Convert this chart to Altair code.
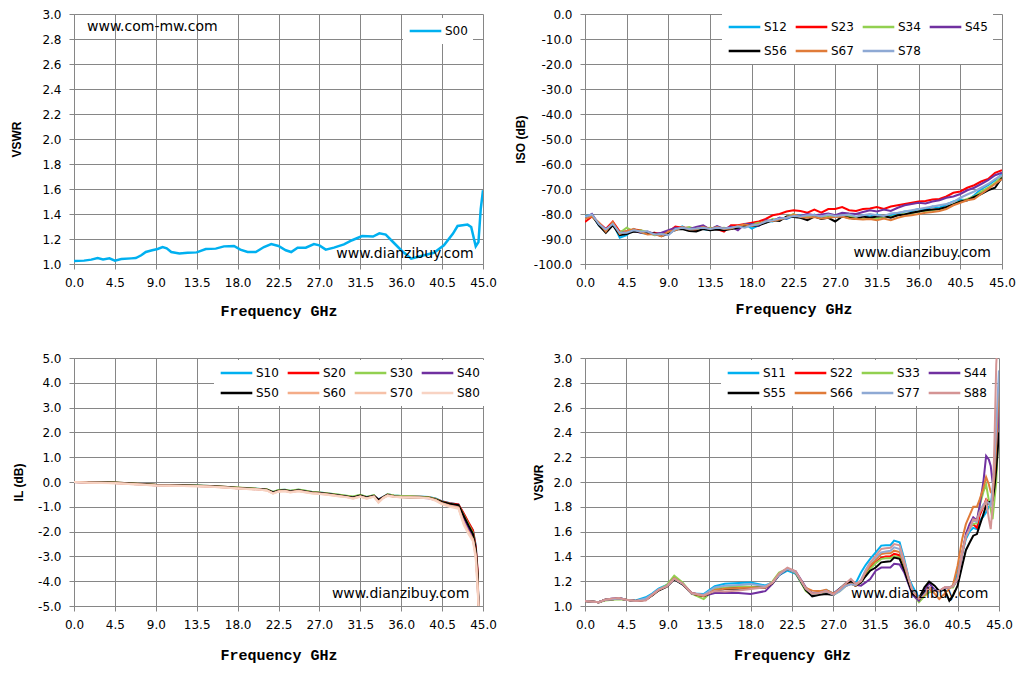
import altair as alt
import pandas as pd

# ---------------- data ----------------
freq_ticks = [0.0, 4.5, 9.0, 13.5, 18.0, 22.5, 27.0, 31.5, 36.0, 40.5, 45.0]

# top-left: VSWR of common port
freq_tl = [0, 0.5, 1.1, 1.9, 2.6, 3.2, 3.9, 4.5, 5.2, 6.3,
           6.8, 7.4, 7.9, 8.6, 9.2, 9.75, 10.2, 10.7, 11.6, 12.5,
           13.5, 14.5, 15.6, 16.5, 17.6, 18.3, 19.1, 20, 20.9, 21.7,
           22.5, 23.3, 23.9, 24.6, 25.5, 26.4, 27, 27.7, 28.6, 29.7,
           30.6, 31.7, 32.9, 33.6, 34.3, 35.1, 36, 37.1, 38.2, 39.6,
           40.7, 41.7, 42.2, 43.3, 43.7, 44.2, 44.5, 44.75, 45]
s00 = [1.024, 1.025, 1.027, 1.035, 1.048, 1.037, 1.045, 1.027, 1.040, 1.045,
       1.048, 1.07, 1.096, 1.11, 1.12, 1.136, 1.125, 1.096, 1.085, 1.09,
       1.093, 1.12, 1.123, 1.141, 1.144, 1.115, 1.096, 1.096, 1.136, 1.16,
       1.144, 1.11, 1.096, 1.131, 1.131, 1.16, 1.149, 1.115, 1.131, 1.157,
       1.19, 1.224, 1.22, 1.245, 1.235, 1.176, 1.11, 1.043, 1.064, 1.09,
       1.149, 1.243, 1.304, 1.315, 1.296, 1.141, 1.176, 1.44, 1.59]

# top-right: isolation
freq_iso = [0, 0.75, 1.5, 2.25, 3, 3.75, 4.5, 5.25, 6, 6.75,
            7.5, 8.25, 9, 9.75, 10.5, 11.25, 12, 12.75, 13.5, 14.25,
            15, 15.75, 16.5, 17.25, 18, 18.75, 19.5, 20.25, 21, 21.75,
            22.5, 23.25, 24, 24.75, 25.5, 26.25, 27, 27.75, 28.5, 29.25,
            30, 30.75, 31.5, 32.25, 33, 33.75, 34.5, 35.25, 36, 36.75,
            37.5, 38.25, 39, 39.75, 40.5, 41.25, 42, 42.75, 43.5, 44.25, 45]
s12 = [-81.0, -80.2, -84.5, -87.0, -83.5, -89.5, -88.5, -86.0, -87.5, -88.0,
       -87.5, -88.8, -87.0, -86.5, -85.0, -86.5, -85.5, -86.0, -86.5, -85.0,
       -86.8, -85.2, -86.0, -84.0, -85.8, -84.5, -82.8, -83.0, -81.5, -82.0,
       -80.8, -80.5, -81.5, -80.2, -81.5, -80.0, -81.2, -80.8, -80.0, -81.5,
       -80.5, -81.0, -80.2, -81.0, -80.6, -79.8, -79.0, -78.8, -78.0, -78.2,
       -77.0, -77.5, -76.2, -75.0, -74.2, -74.5, -72.5, -70.0, -68.5, -66.5, -64.0]
s23 = [-83.2, -81.0, -83.5, -86.0, -83.0, -87.0, -87.0, -86.2, -86.5, -87.8,
       -87.5, -88.0, -87.2, -85.0, -85.5, -85.5, -86.5, -85.0, -86.0, -86.0,
       -87.0, -84.5, -84.5, -84.0, -83.5, -83.0, -82.0, -80.5, -80.0, -79.0,
       -78.5, -78.8, -79.5, -78.2, -79.5, -78.0, -78.0, -77.2, -78.5, -78.8,
       -78.0, -77.8, -77.2, -78.0, -77.0, -76.5, -76.0, -75.5, -75.0, -74.8,
       -74.2, -74.0, -73.0, -71.5, -71.0, -69.5, -68.5, -67.0, -66.0, -63.5, -62.5]
s34 = [-81.5, -80.8, -83.8, -86.8, -84.5, -87.5, -85.5, -87.0, -86.5, -87.2,
       -88.5, -88.2, -87.8, -85.8, -86.0, -85.2, -86.2, -85.8, -85.5, -85.8,
       -85.5, -86.0, -85.2, -84.8, -84.2, -83.5, -83.5, -82.0, -82.5, -81.2,
       -80.0, -81.5, -80.8, -81.0, -81.2, -81.0, -80.5, -81.2, -81.0, -81.5,
       -81.8, -81.5, -81.8, -81.0, -81.2, -80.5, -80.0, -79.8, -79.0, -78.8,
       -78.5, -78.0, -77.5, -76.0, -75.0, -74.0, -73.0, -71.0, -69.5, -67.5, -65.0]
s45 = [-81.8, -80.0, -84.2, -86.0, -84.2, -87.8, -87.0, -86.8, -87.5, -87.0,
       -88.0, -87.5, -86.5, -85.5, -85.8, -86.0, -85.2, -84.5, -86.2, -84.8,
       -86.0, -85.0, -86.5, -84.0, -84.0, -84.8, -82.5, -82.8, -81.5, -81.8,
       -80.5, -80.8, -80.0, -80.5, -80.2, -79.8, -80.5, -79.5, -79.8, -80.0,
       -79.2, -78.5, -79.0, -78.2, -78.8, -77.5, -76.5, -76.0, -75.5, -75.8,
       -75.0, -74.5, -73.5, -73.0, -72.0, -70.5, -69.5, -68.0, -66.5, -64.5, -63.5]
s56 = [-81.5, -80.5, -84.5, -87.5, -84.5, -88.5, -88.0, -87.0, -87.2, -87.8,
       -87.8, -88.8, -88.0, -86.2, -86.0, -86.8, -87.0, -86.0, -86.5, -86.2,
       -86.5, -86.0, -85.5, -84.5, -84.8, -84.5, -83.5, -82.5, -82.8, -81.0,
       -81.2, -81.5, -82.5, -81.0, -82.0, -81.5, -83.0, -81.0, -81.5, -82.0,
       -81.0, -81.5, -81.0, -80.8, -81.5, -80.5, -80.2, -79.5, -79.0, -78.5,
       -78.2, -78.0, -77.2, -76.2, -75.0, -74.5, -73.2, -72.0, -70.5, -69.5, -65.5]
s67 = [-82.0, -80.8, -83.5, -87.0, -83.2, -88.0, -86.8, -86.0, -87.2, -88.2,
       -88.0, -89.0, -87.0, -86.5, -85.2, -86.2, -86.0, -85.2, -86.0, -85.2,
       -86.0, -85.8, -84.8, -84.2, -84.8, -84.0, -82.8, -82.8, -82.2, -81.5,
       -80.2, -81.2, -81.5, -81.2, -81.8, -81.5, -81.2, -81.0, -81.8, -82.0,
       -82.2, -82.0, -82.5, -81.8, -82.5, -81.5, -80.8, -80.5, -80.0, -79.5,
       -79.2, -78.8, -78.0, -76.5, -75.5, -74.5, -74.0, -72.0, -70.0, -68.0, -66.0]
s78 = [-81.2, -80.2, -84.0, -86.2, -84.0, -87.5, -87.5, -86.5, -87.0, -87.0,
       -88.2, -88.0, -88.5, -86.0, -85.5, -86.0, -85.8, -85.5, -86.0, -85.5,
       -85.8, -85.5, -85.0, -85.5, -84.5, -84.2, -83.0, -82.5, -81.8, -81.5,
       -80.8, -81.0, -80.5, -80.5, -81.0, -80.2, -80.8, -80.5, -80.2, -81.0,
       -80.5, -80.0, -80.5, -80.8, -79.8, -79.5, -79.0, -78.5, -78.0, -77.5,
       -77.0, -76.5, -76.0, -75.2, -73.5, -72.2, -71.0, -69.5, -68.0, -66.0, -64.5]

# bottom-left: insertion loss
freq_il = [0, 1.5, 3, 4.5, 6, 7.5, 9, 10.5, 12, 13.5,
           15, 16.5, 18, 19.5, 20.5, 21.2, 21.9, 22.5, 23.2, 23.8,
           24.7, 25.5, 26.2, 27, 28, 29, 30, 30.7, 31.5, 32.2,
           33, 33.5, 34, 34.5, 35.2, 36, 37, 38, 39, 39.8,
           40.5, 41.3, 42.3, 42.9, 43.4, 43.9, 44.2, 44.4, 44.5]
s10 = [0.0, -0.00, -0.01, -0.02, -0.05, -0.08, -0.11, -0.12, -0.13, -0.14,
       -0.16, -0.19, -0.23, -0.26, -0.28, -0.30, -0.40, -0.33, -0.31, -0.36,
       -0.31, -0.36, -0.40, -0.42, -0.46, -0.51, -0.56, -0.60, -0.53, -0.60,
       -0.54, -0.70, -0.60, -0.50, -0.54, -0.56, -0.57, -0.58, -0.60, -0.66,
       -0.78, -0.85, -0.90, -1.30, -1.65, -1.95, -2.55, -3.60, -5.0]
s20 = [0.0, -0.01, -0.01, -0.02, -0.05, -0.08, -0.11, -0.12, -0.13, -0.15,
       -0.16, -0.19, -0.23, -0.26, -0.29, -0.30, -0.41, -0.34, -0.32, -0.37,
       -0.32, -0.37, -0.41, -0.43, -0.47, -0.52, -0.57, -0.61, -0.54, -0.61,
       -0.55, -0.72, -0.61, -0.51, -0.55, -0.57, -0.58, -0.59, -0.61, -0.68,
       -0.78, -0.86, -0.90, -1.28, -1.62, -1.95, -2.60, -3.50, -5.0]
s30 = [0.0, -0.00, -0.01, -0.02, -0.05, -0.08, -0.11, -0.12, -0.13, -0.14,
       -0.16, -0.19, -0.22, -0.25, -0.28, -0.29, -0.40, -0.32, -0.31, -0.35,
       -0.30, -0.35, -0.40, -0.42, -0.46, -0.50, -0.55, -0.58, -0.52, -0.60,
       -0.53, -0.75, -0.62, -0.50, -0.54, -0.56, -0.57, -0.59, -0.61, -0.68,
       -0.80, -0.88, -0.95, -1.35, -1.70, -2.05, -2.80, -3.80, -5.0]
s40 = [0.0, -0.02, -0.03, -0.04, -0.07, -0.10, -0.13, -0.14, -0.15, -0.16,
       -0.18, -0.21, -0.25, -0.28, -0.30, -0.32, -0.43, -0.36, -0.34, -0.39,
       -0.34, -0.39, -0.43, -0.45, -0.49, -0.54, -0.59, -0.63, -0.56, -0.63,
       -0.57, -0.73, -0.63, -0.53, -0.58, -0.60, -0.62, -0.64, -0.66, -0.73,
       -0.84, -0.92, -1.00, -1.45, -1.85, -2.30, -2.90, -4.00, -5.0]
s50 = [0.0, -0.01, -0.02, -0.03, -0.06, -0.09, -0.12, -0.13, -0.14, -0.15,
       -0.17, -0.20, -0.24, -0.27, -0.29, -0.31, -0.42, -0.35, -0.33, -0.38,
       -0.33, -0.38, -0.42, -0.44, -0.48, -0.53, -0.58, -0.62, -0.55, -0.62,
       -0.56, -0.72, -0.62, -0.52, -0.58, -0.60, -0.62, -0.63, -0.64, -0.70,
       -0.80, -0.88, -0.93, -1.38, -1.75, -2.10, -2.70, -3.70, -5.0]
s60 = [0.0, -0.02, -0.03, -0.04, -0.07, -0.10, -0.13, -0.14, -0.15, -0.16,
       -0.18, -0.21, -0.25, -0.28, -0.30, -0.33, -0.45, -0.37, -0.35, -0.40,
       -0.35, -0.40, -0.44, -0.46, -0.50, -0.55, -0.60, -0.65, -0.58, -0.65,
       -0.58, -0.80, -0.64, -0.54, -0.58, -0.60, -0.61, -0.62, -0.64, -0.72,
       -0.86, -0.95, -1.02, -1.65, -2.00, -2.30, -2.90, -4.00, -5.0]
s70 = [0.0, -0.02, -0.03, -0.05, -0.08, -0.11, -0.14, -0.15, -0.16, -0.17,
       -0.19, -0.22, -0.26, -0.29, -0.31, -0.34, -0.46, -0.38, -0.36, -0.41,
       -0.36, -0.41, -0.45, -0.47, -0.51, -0.56, -0.61, -0.66, -0.59, -0.66,
       -0.59, -0.82, -0.65, -0.55, -0.59, -0.61, -0.62, -0.63, -0.65, -0.74,
       -0.88, -0.97, -1.05, -1.70, -2.05, -2.35, -3.00, -4.20, -5.0]
s80 = [0.0, -0.03, -0.04, -0.05, -0.08, -0.11, -0.14, -0.15, -0.16, -0.17,
       -0.19, -0.22, -0.26, -0.29, -0.31, -0.34, -0.47, -0.39, -0.37, -0.42,
       -0.37, -0.42, -0.46, -0.48, -0.52, -0.57, -0.62, -0.67, -0.60, -0.67,
       -0.60, -0.84, -0.66, -0.56, -0.60, -0.62, -0.63, -0.64, -0.66, -0.76,
       -0.90, -1.00, -1.08, -1.75, -2.10, -2.40, -3.10, -4.30, -5.0]

# bottom-right: VSWR of output ports
freq_vs = [0, 1.5, 2.2, 3.0, 3.7, 4.5, 5.5, 6.6, 7.3, 8.0,
           8.9, 9.7, 10.6, 11.6, 12.9, 14.1, 15.2, 16.7, 18.0, 19.6,
           20.4, 21.1, 22.0, 22.9, 24.0, 24.7, 25.5, 26.2, 27.0, 27.7,
           28.3, 28.9, 29.4, 30.0, 30.5, 31.0, 31.6, 32.2, 32.7, 33.2,
           33.6, 34.2, 34.7, 35.2, 35.6, 36.3, 36.9, 37.4, 38.0, 38.5,
           39.1, 39.6, 40.0, 40.5, 41.0, 41.4, 41.8, 42.2, 42.6, 42.9,
           43.3, 43.6, 43.9, 44.1, 44.3, 44.5, 44.7, 45.0]
s11 = [1.04, 1.03, 1.05, 1.055, 1.065, 1.05, 1.045, 1.07, 1.10, 1.14,
       1.17, 1.22, 1.175, 1.10, 1.097, 1.16, 1.18, 1.185, 1.19, 1.165,
       1.19, 1.25, 1.285, 1.26, 1.13, 1.10, 1.11, 1.13, 1.10, 1.14,
       1.175, 1.18, 1.18, 1.27, 1.33, 1.38, 1.433, 1.487, 1.49, 1.49,
       1.527, 1.513, 1.38, 1.22, 1.16, 1.065, 1.10, 1.15, 1.125, 1.12,
       1.14, 1.15, 1.16, 1.27, 1.42, 1.54, 1.60, 1.63, 1.62, 1.69,
       1.72, 1.755, 1.80, 1.82, 1.90, 2.05, 2.35, 2.70]
s22 = [1.04, 1.03, 1.05, 1.055, 1.06, 1.05, 1.04, 1.05, 1.09, 1.13,
       1.16, 1.22, 1.18, 1.105, 1.085, 1.137, 1.142, 1.148, 1.15, 1.15,
       1.19, 1.26, 1.30, 1.27, 1.14, 1.10, 1.105, 1.12, 1.095, 1.13,
       1.16, 1.18, 1.165, 1.20, 1.26, 1.31, 1.352, 1.39, 1.40, 1.40,
       1.42, 1.41, 1.31, 1.20, 1.12, 1.06, 1.10, 1.15, 1.12, 1.12,
       1.15, 1.15, 1.16, 1.22, 1.43, 1.56, 1.63, 1.66, 1.63, 1.73,
       1.80, 1.86, 1.84, 1.83, 1.85, 2.00, 2.20, 2.60]
s33 = [1.04, 1.03, 1.045, 1.05, 1.055, 1.05, 1.04, 1.05, 1.09, 1.13,
       1.17, 1.245, 1.19, 1.10, 1.056, 1.137, 1.15, 1.159, 1.155, 1.15,
       1.20, 1.27, 1.30, 1.265, 1.12, 1.085, 1.095, 1.12, 1.09, 1.12,
       1.16, 1.18, 1.165, 1.19, 1.25, 1.30, 1.345, 1.38, 1.385, 1.385,
       1.40, 1.39, 1.30, 1.19, 1.10, 1.03, 1.08, 1.11, 1.12, 1.12,
       1.14, 1.15, 1.15, 1.22, 1.43, 1.56, 1.63, 1.66, 1.67, 1.81,
       1.92, 1.98, 1.85, 1.78, 1.70, 1.85, 2.00, 2.50]
s44 = [1.04, 1.03, 1.05, 1.06, 1.065, 1.05, 1.04, 1.05, 1.09, 1.13,
       1.16, 1.22, 1.18, 1.105, 1.08, 1.105, 1.105, 1.105, 1.097, 1.12,
       1.18, 1.25, 1.30, 1.28, 1.15, 1.105, 1.11, 1.12, 1.10, 1.14,
       1.17, 1.20, 1.17, 1.164, 1.19, 1.218, 1.285, 1.31, 1.31, 1.31,
       1.34, 1.335, 1.27, 1.17, 1.09, 1.043, 1.12, 1.185, 1.13, 1.12,
       1.14, 1.15, 1.16, 1.21, 1.42, 1.58, 1.66, 1.715, 1.69, 1.81,
       2.00, 2.21, 2.18, 2.13, 2.00, 2.10, 2.20, 2.60]
s55 = [1.04, 1.03, 1.05, 1.055, 1.06, 1.05, 1.04, 1.05, 1.085, 1.125,
       1.155, 1.215, 1.175, 1.10, 1.08, 1.124, 1.137, 1.142, 1.145, 1.15,
       1.185, 1.25, 1.30, 1.27, 1.13, 1.078, 1.09, 1.097, 1.09, 1.14,
       1.18, 1.196, 1.164, 1.19, 1.24, 1.285, 1.31, 1.352, 1.357, 1.36,
       1.39, 1.38, 1.29, 1.18, 1.10, 1.06, 1.15, 1.196, 1.164, 1.12,
       1.13, 1.043, 1.083, 1.164, 1.325, 1.45, 1.51, 1.567, 1.58, 1.65,
       1.74, 1.81, 1.836, 1.84, 1.85, 1.95, 2.10, 2.40]
s66 = [1.04, 1.03, 1.05, 1.055, 1.06, 1.05, 1.04, 1.05, 1.09, 1.13,
       1.16, 1.225, 1.18, 1.10, 1.08, 1.13, 1.14, 1.145, 1.148, 1.15,
       1.19, 1.26, 1.30, 1.27, 1.145, 1.124, 1.12, 1.13, 1.10, 1.13,
       1.165, 1.18, 1.165, 1.20, 1.27, 1.33, 1.37, 1.42, 1.425, 1.425,
       1.446, 1.435, 1.33, 1.21, 1.12, 1.06, 1.09, 1.14, 1.10, 1.056,
       1.10, 1.14, 1.17, 1.325, 1.54, 1.66, 1.73, 1.80, 1.80, 1.86,
       1.95, 2.04, 1.98, 1.92, 1.90, 2.05, 2.30, 2.80]
s77 = [1.04, 1.03, 1.05, 1.055, 1.06, 1.05, 1.04, 1.06, 1.095, 1.135,
       1.16, 1.22, 1.18, 1.10, 1.09, 1.15, 1.164, 1.17, 1.177, 1.16,
       1.19, 1.25, 1.30, 1.27, 1.14, 1.10, 1.105, 1.12, 1.09, 1.12,
       1.16, 1.175, 1.17, 1.21, 1.29, 1.35, 1.39, 1.433, 1.44, 1.445,
       1.473, 1.46, 1.35, 1.22, 1.13, 1.065, 1.10, 1.15, 1.12, 1.12,
       1.15, 1.15, 1.16, 1.22, 1.43, 1.56, 1.62, 1.69, 1.68, 1.76,
       1.82, 1.84, 1.83, 1.81, 1.95, 2.15, 2.45, 2.90]
s88 = [1.04, 1.03, 1.05, 1.06, 1.065, 1.05, 1.04, 1.045, 1.09, 1.13,
       1.16, 1.22, 1.18, 1.105, 1.085, 1.12, 1.116, 1.124, 1.137, 1.15,
       1.19, 1.26, 1.31, 1.28, 1.14, 1.10, 1.105, 1.12, 1.095, 1.14,
       1.18, 1.218, 1.18, 1.20, 1.28, 1.35, 1.406, 1.46, 1.465, 1.47,
       1.50, 1.49, 1.36, 1.22, 1.12, 1.06, 1.10, 1.15, 1.12, 1.12,
       1.15, 1.15, 1.16, 1.22, 1.43, 1.56, 1.62, 1.70, 1.69, 1.755,
       1.80, 1.85, 1.70, 1.62, 1.80, 2.30, 2.95, 3.30]

BLUE, RED, GREEN, PURPLE, BLACK = "#00B0F0", "#FF0000", "#92D050", "#7030A0", "#000000"
GRID = "#868686"


def long_frame(freq, series):
    rows = []
    for name, vals in series.items():
        assert len(vals) == len(freq), name
        rows += [{"freq": f, "val": v, "series": name} for f, v in zip(freq, vals)]
    return pd.DataFrame(rows)


def make_legend(x, y, cols, row_pad):
    return alt.Legend(orient="none", legendX=x, legendY=y, columns=cols, title=None,
                      direction="horizontal",
                      symbolType="stroke", symbolSize=1000, symbolStrokeWidth=2.5,
                      labelFont="DejaVu Sans", labelFontSize=12, labelColor="black",
                      labelOffset=2, clipHeight=16, rowPadding=row_pad, columnPadding=7,
                      padding=5, fillColor="white")


def panel(df, colors, legend, y_dom, y_vals, y_title, y_tpad, x_tpad, notes, w, h, sw=2):
    x_enc = alt.X("freq:Q", scale=alt.Scale(domain=[0, 45], nice=False, zero=False),
                  axis=alt.Axis(values=freq_ticks, format=".1f", title="Frequency GHz",
                                labelFlush=False, labelOverlap=False, labelPadding=8,
                                titlePadding=x_tpad, titleFont="Liberation Mono",
                                titleFontSize=15, titleFontWeight="bold"))
    y_enc = alt.Y("val:Q", scale=alt.Scale(domain=y_dom, nice=False, zero=False),
                  axis=alt.Axis(values=y_vals, title=y_title, labelPadding=8,
                                labelExpr="(datum.value < 0 ? '-' : '') + format(abs(datum.value), '.1f')",
                                titlePadding=y_tpad, titleFont="Liberation Sans",
                                titleFontSize=12, titleFontWeight="bold"))
    names = list(df["series"].unique())
    lines = alt.Chart(df).mark_line(strokeWidth=sw, clip=True).encode(
        x=x_enc, y=y_enc,
        color=alt.Color("series:N", scale=alt.Scale(domain=names, range=colors), legend=legend),
    )
    layers = [lines]
    for fx, fy, label, align in notes:
        note = pd.DataFrame({"freq": [fx], "val": [fy], "label": [label]})
        layers.append(alt.Chart(note).mark_text(align=align, baseline="alphabetic",
                                                font="DejaVu Sans", fontSize=14,
                                                color="black").encode(
            x=x_enc, y=y_enc, text="label:N"))
    return alt.layer(*layers).properties(width=w, height=h)


tl = panel(long_frame(freq_tl, {"S00": s00}), [BLUE],
           make_legend(329, 4, 1, 4), [1.0, 3.0],
           [1.0, 1.2, 1.4, 1.6, 1.8, 2.0, 2.2, 2.4, 2.6, 2.8, 3.0], "VSWR", 18, 15,
           [(1.43, 2.862, "www.com-mw.com", "left"),
            (43.98, 1.048, "www.dianzibuy.com", "right")], 409, 250, sw=2.5)

tr = panel(long_frame(freq_iso, {"S12": s12, "S23": s23, "S34": s34, "S45": s45,
                                 "S56": s56, "S67": s67, "S78": s78}),
           [BLUE, RED, GREEN, PURPLE, BLACK, "#E07B39", "#8EA9D4"],
           make_legend(137, 0, 4, 8), [-100, 0],
           [0, -10, -20, -30, -40, -50, -60, -70, -80, -90, -100], "ISO (dB)", 6, 13,
           [(43.8, -97.3, "www.dianzibuy.com", "right")], 417, 250)

bl = panel(long_frame(freq_il, {"S10": s10, "S20": s20, "S30": s30, "S40": s40,
                                "S50": s50, "S60": s60, "S70": s70, "S80": s80}),
           [BLUE, RED, GREEN, PURPLE, BLACK, "#F4AC88", "#F6C1A8", "#F8D3C3"],
           make_legend(140, 2, 4, 4), [-5, 5],
           [5, 4, 3, 2, 1, 0, -1, -2, -3, -4, -5], "IL (dB)", 12, 17,
           [(43.49, -4.69, "www.dianzibuy.com", "right")], 409, 248)

br = panel(long_frame(freq_vs, {"S11": s11, "S22": s22, "S33": s33, "S44": s44,
                                "S55": s55, "S66": s66, "S77": s77, "S88": s88}),
           [BLUE, RED, GREEN, PURPLE, BLACK, "#E07B39", "#8EA9D4", "#D49494"],
           make_legend(136, 2, 4, 4), [1.0, 3.0],
           [1.0, 1.2, 1.4, 1.6, 1.8, 2.0, 2.2, 2.4, 2.6, 2.8, 3.0], "VSWR", 7, 17,
           [(43.84, 1.062, "www.dianzibuy.com", "right")], 414, 248)

chart = alt.concat(tl, tr, bl, br, columns=2, spacing={"row": 94, "column": 102},
                   bounds="flush").resolve_scale(
    color="independent", x="independent", y="independent"
).resolve_legend(color="independent").properties(
    padding={"left": 2, "top": 0, "right": 5, "bottom": 5}, background="white"
).configure_view(stroke=None).configure_axis(
    gridColor=GRID, domainColor=GRID, tickColor=GRID, tickSize=5,
    labelFont="DejaVu Sans", labelFontSize=12, labelColor="black", titleColor="black",
    gridOpacity=1, domainOpacity=1,
)

chart.save("out.html", embed_options={"renderer": "svg", "actions": False})
